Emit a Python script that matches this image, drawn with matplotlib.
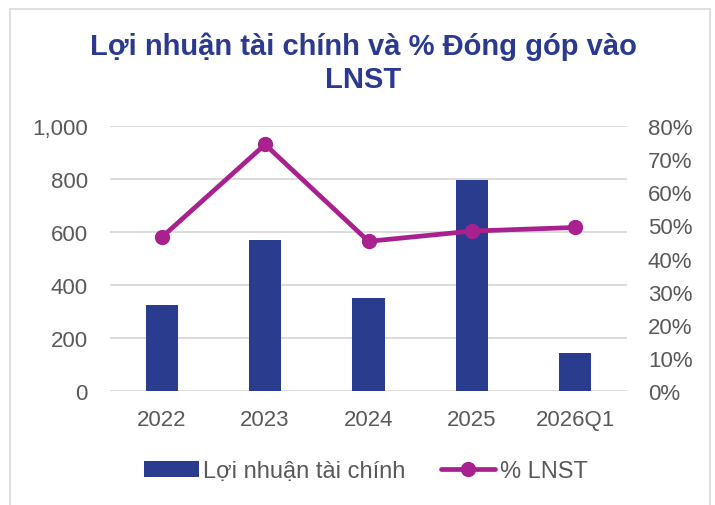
import numpy as np
import matplotlib.pyplot as plt
from matplotlib.patches import Rectangle
from matplotlib.ticker import FuncFormatter

plt.rcParams['font.family'] = ['Liberation Sans', 'DejaVu Sans']

categories = ['2022', '2023', '2024', '2025', '2026Q1']
loi_nhuan = [325, 570, 351, 798, 142]
pct_lnst = [46.4, 74.5, 45.2, 48.3, 49.4]

bar_color = '#293C8E'
line_color = '#A8218E'
text_color = '#595959'
grid_color = '#D9D9D9'
size = 16

fig = plt.figure(figsize=(7.15, 5.06), dpi=100)
ax = fig.add_axes([0.1538, 0.2259, 0.7232, 0.5225])
ax2 = ax.twinx()

x = np.arange(len(categories))
ax.bar(x, loi_nhuan, width=0.31, color=bar_color, label='Lợi nhuận tài chính', zorder=2)
ax2.plot(x, pct_lnst, color=line_color, lw=3.4, marker='o', markersize=10,
         solid_capstyle='round', label='% LNST', zorder=3)

ax.set_xlim(-0.5, len(categories) - 0.5)
ax.set_ylim(0, 1000)
ax2.set_ylim(0, 80)
ax.set_yticks(np.arange(0, 1001, 200))
ax2.set_yticks(np.arange(0, 81, 10))
ax.yaxis.set_major_formatter(FuncFormatter(lambda v, p: f'{v:,.0f}'))
ax2.yaxis.set_major_formatter(FuncFormatter(lambda v, p: f'{v:.0f}%'))
ax.set_xticks(x)
ax.set_xticklabels(categories)

ax.grid(axis='y', color=grid_color, lw=1.3, zorder=0)
ax.set_axisbelow(True)
for a in (ax, ax2):
    for s in a.spines.values():
        s.set_visible(False)
ax.tick_params(axis='both', length=0, labelsize=size, colors=text_color)
ax.tick_params(axis='y', pad=16)
ax.tick_params(axis='x', pad=13)
ax2.tick_params(axis='y', length=0, labelsize=size, colors=text_color, pad=15)

fig.text(0.508, 0.875, 'Lợi nhuận tài chính và % Đóng góp vào\nLNST', ha='center', va='center',
         fontsize=21, fontweight='bold', color='#2B3990', linespacing=1.25)

h1, l1 = ax.get_legend_handles_labels()
h2, l2 = ax2.get_legend_handles_labels()
leg = fig.legend(h1 + h2, l1 + l2, loc='center', bbox_to_anchor=(0.512, 0.067), ncol=2,
                 frameon=False, fontsize=17, handlelength=2.3, handletextpad=0.2,
                 columnspacing=1.5)
for t in leg.get_texts():
    t.set_color(text_color)

fig.patches.append(Rectangle((10 / 715, -0.01), 700 / 715, 1 - 10 / 506 + 0.01,
                             transform=fig.transFigure, fill=False, edgecolor='#D9D9D9', lw=1.2))

plt.savefig('out.png', dpi=100)
